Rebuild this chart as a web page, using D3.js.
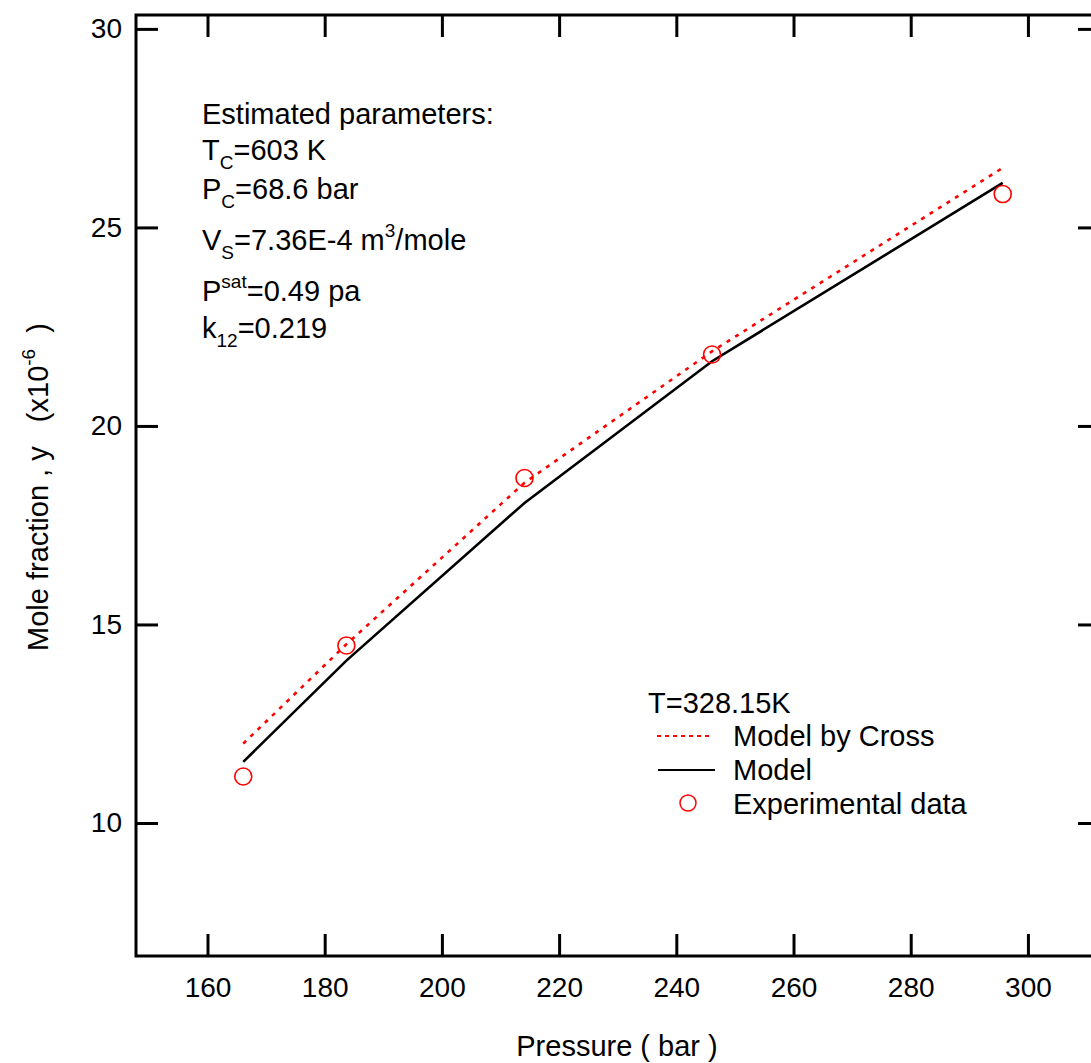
<!DOCTYPE html>
<html>
<head>
<meta charset="utf-8">
<script src="https://cdn.jsdelivr.net/npm/d3@7"></script>
<style>
  html, body { margin: 0; padding: 0; background: #fff; }
  svg { display: block; }
  text { font-family: "Liberation Sans", Arial, sans-serif; fill: #000; white-space: pre; }
</style>
</head>
<body>
<svg id="chart" width="1091" height="1063"></svg>
<script>
// Pressure (bar) at each measured point
const pressure = [166.1, 183.7, 214.1, 246.1, 295.7];
// Mole fraction y (x10^-6)
const experimental = [11.17, 14.47, 18.69, 21.80, 25.84];
const modelCross = [12.0, 14.5, 18.57, 21.88, 26.50];
const model = [11.54, 14.09, 18.06, 21.63, 26.12];

const xTicks = [160, 180, 200, 220, 240, 260, 280, 300];
const yTicks = [10, 15, 20, 25, 30];

const svg = d3.select("#chart");
const plotLeft = 136, plotRight = 1100, plotTop = 15, plotBottom = 956;

const x = d3.scaleLinear().domain([147.8, 312.3]).range([plotLeft, plotRight]);
const y = d3.scaleLinear().domain([6.65, 30.35]).range([plotBottom, plotTop]);

const tickLen = 22;
const fontSize = 29;
const tickFont = 28;

// Frame
svg.append("rect")
  .attr("x", plotLeft).attr("y", plotTop)
  .attr("width", plotRight - plotLeft).attr("height", plotBottom - plotTop)
  .attr("fill", "none").attr("stroke", "#000").attr("stroke-width", 3);

// Bottom axis with inward ticks
const xAxisBottom = svg.append("g")
  .attr("transform", `translate(0,${plotBottom})`)
  .call(d3.axisBottom(x).tickValues(xTicks).tickSizeInner(-tickLen).tickSizeOuter(0).tickPadding(21));
xAxisBottom.select(".domain").remove();
xAxisBottom.selectAll(".tick line").attr("stroke-width", 3);
xAxisBottom.selectAll(".tick text")
  .attr("font-size", tickFont).attr("font-family", "Liberation Sans, Arial, sans-serif");

// Top ticks
const xAxisTop = svg.append("g")
  .attr("transform", `translate(0,${plotTop})`)
  .call(d3.axisTop(x).tickValues(xTicks).tickSizeInner(-tickLen).tickSizeOuter(0).tickFormat(""));
xAxisTop.select(".domain").remove();
xAxisTop.selectAll(".tick line").attr("stroke-width", 3);

// Left axis with inward ticks
const yAxisLeft = svg.append("g")
  .attr("transform", `translate(${plotLeft},0)`)
  .call(d3.axisLeft(y).tickValues(yTicks).tickSizeInner(-tickLen).tickSizeOuter(0));
yAxisLeft.select(".domain").remove();
yAxisLeft.selectAll(".tick line").attr("stroke-width", 3);
yAxisLeft.selectAll(".tick text")
  .attr("x", -14)
  .attr("font-size", tickFont).attr("font-family", "Liberation Sans, Arial, sans-serif");

// Right ticks
const yAxisRight = svg.append("g")
  .attr("transform", `translate(${plotRight},0)`)
  .call(d3.axisRight(y).tickValues(yTicks).tickSizeInner(-tickLen).tickSizeOuter(0).tickFormat(""));
yAxisRight.select(".domain").remove();
yAxisRight.selectAll(".tick line").attr("stroke-width", 3);

// Axis titles
svg.append("text")
  .attr("x", 617).attr("y", 1056)
  .attr("text-anchor", "middle").attr("font-size", fontSize)
  .text("Pressure ( bar )");

const yTitle = svg.append("text")
  .attr("transform", "translate(48,487) rotate(-90)")
  .attr("text-anchor", "middle").attr("font-size", fontSize);
yTitle.append("tspan").text("Mole fraction , y   (x10");
yTitle.append("tspan").attr("dy", -13).attr("font-size", 19).text("-6");
yTitle.append("tspan").attr("dy", 13).text("  )");

// Curves
const line = d3.line().x((d, i) => x(pressure[i])).y(d => y(d));

svg.append("path")
  .datum(modelCross)
  .attr("d", line)
  .attr("fill", "none").attr("stroke", "#ff0000")
  .attr("stroke-width", 2.6).attr("stroke-dasharray", "4,6");

svg.append("path")
  .datum(model)
  .attr("d", line)
  .attr("fill", "none").attr("stroke", "#000")
  .attr("stroke-width", 2.6);

svg.selectAll("circle.exp")
  .data(experimental)
  .enter().append("circle")
  .attr("class", "exp")
  .attr("cx", (d, i) => x(pressure[i]))
  .attr("cy", d => y(d))
  .attr("r", 8.5)
  .attr("fill", "none").attr("stroke", "#ff0000").attr("stroke-width", 1.6);

// Parameter block
const params = svg.append("g").attr("font-size", fontSize);
const sub = 9, supShift = 13, small = 19;

params.append("text").attr("x", 202).attr("y", 124).text("Estimated parameters:");

let t = params.append("text").attr("x", 202).attr("y", 160);
t.append("tspan").text("T");
t.append("tspan").attr("dy", sub).attr("font-size", small).text("C");
t.append("tspan").attr("dy", -sub).text("=603 K");

t = params.append("text").attr("x", 202).attr("y", 199);
t.append("tspan").text("P");
t.append("tspan").attr("dy", sub).attr("font-size", small).text("C");
t.append("tspan").attr("dy", -sub).text("=68.6 bar");

t = params.append("text").attr("x", 202).attr("y", 250);
t.append("tspan").text("V");
t.append("tspan").attr("dy", sub).attr("font-size", small).text("S");
t.append("tspan").attr("dy", -sub).text("=7.36E-4 m");
t.append("tspan").attr("dy", -supShift).attr("font-size", small).text("3");
t.append("tspan").attr("dy", supShift).text("/mole");

t = params.append("text").attr("x", 202).attr("y", 301);
t.append("tspan").text("P");
t.append("tspan").attr("dy", -supShift).attr("font-size", small).text("sat");
t.append("tspan").attr("dy", supShift).text("=0.49 pa");

t = params.append("text").attr("x", 202).attr("y", 338);
t.append("tspan").text("k");
t.append("tspan").attr("dy", sub).attr("font-size", small).text("12");
t.append("tspan").attr("dy", -sub).text("=0.219");

// Legend
const legend = svg.append("g").attr("font-size", fontSize);
legend.append("text").attr("x", 648).attr("y", 713).text("T=328.15K");

legend.append("line")
  .attr("x1", 657).attr("x2", 713).attr("y1", 736).attr("y2", 736)
  .attr("stroke", "#ff0000").attr("stroke-width", 2).attr("stroke-dasharray", "4,4");
legend.append("text").attr("x", 733).attr("y", 746).text("Model by Cross");

legend.append("line")
  .attr("x1", 658).attr("x2", 715).attr("y1", 770).attr("y2", 770)
  .attr("stroke", "#000").attr("stroke-width", 2);
legend.append("text").attr("x", 733).attr("y", 780).text("Model");

legend.append("circle")
  .attr("cx", 688).attr("cy", 803).attr("r", 8)
  .attr("fill", "none").attr("stroke", "#ff0000").attr("stroke-width", 1.5);
legend.append("text").attr("x", 733).attr("y", 814).text("Experimental data");
</script>
</body>
</html>
